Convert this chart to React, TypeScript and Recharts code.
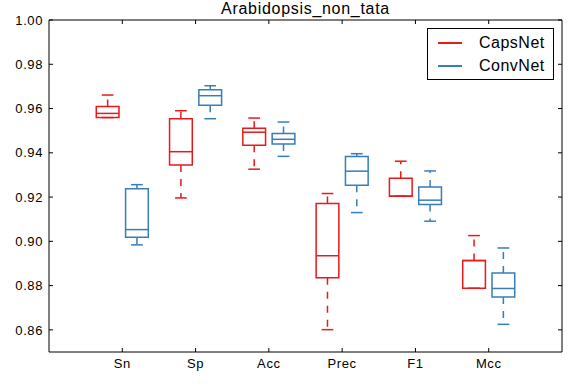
import { ComposedChart, XAxis, YAxis, ReferenceArea, ReferenceLine, Scatter } from 'recharts'

// metric names along the x axis (positions 1..6)
const categories = ['Sn', 'Sp', 'Acc', 'Prec', 'F1', 'Mcc']
const xTicks = [1, 2, 3, 4, 5, 6]
const yTicks = [0.86, 0.88, 0.9, 0.92, 0.94, 0.96, 0.98, 1.0]

// CapsNet five-number summaries
const capsMin = [0.9559, 0.9196, 0.9326, 0.8601, 0.9204, 0.8788]
const capsQ1 = [0.9559, 0.9345, 0.9434, 0.8835, 0.9204, 0.8788]
const capsMed = [0.9578, 0.9405, 0.9493, 0.8935, 0.9204, 0.8913]
const capsQ3 = [0.9609, 0.9554, 0.9511, 0.9171, 0.9285, 0.8913]
const capsMax = [0.9661, 0.959, 0.9557, 0.9216, 0.9362, 0.9026]

// ConvNet five-number summaries
const convMin = [0.8984, 0.9554, 0.9384, 0.913, 0.9091, 0.8625]
const convQ1 = [0.9018, 0.9615, 0.944, 0.9253, 0.9166, 0.8749]
const convMed = [0.9053, 0.9658, 0.9461, 0.9317, 0.9186, 0.8787]
const convQ3 = [0.9238, 0.9685, 0.9487, 0.9383, 0.9246, 0.8857]
const convMax = [0.9256, 0.9703, 0.9539, 0.9396, 0.9318, 0.897]

const RED = '#e41a1c'
const BLUE = '#377eb8'
const FONT = '"Liberation Sans", Arial, sans-serif'

const boxHalf = 0.155
const capHalf = 0.08
const offset = 0.2

const series = [
  { name: 'CapsNet', color: RED, shift: -offset, min: capsMin, q1: capsQ1, med: capsMed, q3: capsQ3, max: capsMax },
  { name: 'ConvNet', color: BLUE, shift: offset, min: convMin, q1: convQ1, med: convMed, q3: convQ3, max: convMax },
]

// one row per category, used so the axes have data to work from
const data = categories.map((c, i) => ({ pos: xTicks[i], name: c, caps: capsMed[i], conv: convMed[i] }))

const TICK_LEN = 4

const BottomTick = ({ x, y, payload }: any) => (
  <g>
    <line x1={x} x2={x} y1={y - 6} y2={y - 6 - TICK_LEN} stroke="#000" />
    <text x={x} y={y} dy="0.75em" textAnchor="middle" fontSize={13} letterSpacing={0.6} fontFamily={FONT} fill="#000">
      {categories[payload.value - 1]}
    </text>
  </g>
)

const LeftTick = ({ x, y, payload }: any) => (
  <g>
    <line x1={x + 6} x2={x + 6 + TICK_LEN} y1={y} y2={y} stroke="#000" />
    <text x={x} y={y} dy="0.36em" textAnchor="end" fontSize={13} letterSpacing={0.6} fontFamily={FONT} fill="#000">
      {payload.value.toFixed(2)}
    </text>
  </g>
)

const TopTick = ({ x, y }: any) => (
  <line x1={x} x2={x} y1={y + 2} y2={y + 2 + TICK_LEN} stroke="#000" />
)

const RightTick = ({ x, y }: any) => (
  <line x1={x - 2} x2={x - 2 - TICK_LEN} y1={y} y2={y} stroke="#000" />
)

const NoShape = () => <g />

export default function App() {
  const common = { xAxisId: 'b', yAxisId: 'l', ifOverflow: 'visible' as const }

  const marks: any[] = []
  series.forEach((s) => {
    categories.forEach((c, i) => {
      const cx = xTicks[i] + s.shift
      marks.push(
        <ReferenceLine
          key={`${s.name}-${c}-wu`}
          {...common}
          segment={[{ x: cx, y: s.q3[i] }, { x: cx, y: s.max[i] }]}
          stroke={s.color}
          strokeWidth={1.5}
          strokeDasharray="7 7"
        />,
        <ReferenceLine
          key={`${s.name}-${c}-wl`}
          {...common}
          segment={[{ x: cx, y: s.q1[i] }, { x: cx, y: s.min[i] }]}
          stroke={s.color}
          strokeWidth={1.5}
          strokeDasharray="7 7"
        />,
        <ReferenceLine
          key={`${s.name}-${c}-cu`}
          {...common}
          segment={[{ x: cx - capHalf, y: s.max[i] }, { x: cx + capHalf, y: s.max[i] }]}
          stroke={s.color}
          strokeWidth={1.5}
        />,
        <ReferenceLine
          key={`${s.name}-${c}-cl`}
          {...common}
          segment={[{ x: cx - capHalf, y: s.min[i] }, { x: cx + capHalf, y: s.min[i] }]}
          stroke={s.color}
          strokeWidth={1.5}
        />,
        <ReferenceArea
          key={`${s.name}-${c}-box`}
          {...common}
          x1={cx - boxHalf}
          x2={cx + boxHalf}
          y1={s.q1[i]}
          y2={s.q3[i]}
          fill="none"
          fillOpacity={0}
          stroke={s.color}
          strokeWidth={1.5}
        />,
        <ReferenceLine
          key={`${s.name}-${c}-med`}
          {...common}
          segment={[{ x: cx - boxHalf, y: s.med[i] }, { x: cx + boxHalf, y: s.med[i] }]}
          stroke={s.color}
          strokeWidth={1.5}
        />
      )
    })
  })

  return (
    <div style={{ position: 'absolute', left: 0, top: 0, width: 576, height: 384, background: '#fff' }}>
      <ComposedChart width={576} height={384} data={data} margin={{ top: 0, right: 0, bottom: 0, left: 0 }}>
        <XAxis
          xAxisId="b"
          dataKey="pos"
          type="number"
          domain={[0, 7]}
          ticks={xTicks}
          allowDataOverflow
          height={32}
          tickSize={0}
          tickMargin={6}
          tickLine={false}
          axisLine={{ stroke: '#000' }}
          tick={<BottomTick />}
        />
        <XAxis
          xAxisId="t"
          dataKey="pos"
          orientation="top"
          type="number"
          domain={[0, 7]}
          ticks={xTicks}
          allowDataOverflow
          height={20}
          tickSize={0}
          tickMargin={2}
          tickLine={false}
          axisLine={{ stroke: '#000' }}
          tick={<TopTick />}
        />
        <YAxis
          yAxisId="l"
          type="number"
          domain={[0.85, 1.0]}
          ticks={yTicks}
          allowDataOverflow
          width={49}
          tickSize={0}
          tickMargin={6}
          tickLine={false}
          axisLine={{ stroke: '#000' }}
          tick={<LeftTick />}
        />
        <YAxis
          yAxisId="r"
          orientation="right"
          type="number"
          domain={[0.85, 1.0]}
          ticks={yTicks}
          allowDataOverflow
          width={14}
          tickSize={0}
          tickMargin={2}
          tickLine={false}
          axisLine={{ stroke: '#000' }}
          tick={<RightTick />}
        />
        <Scatter xAxisId="b" yAxisId="l" dataKey="caps" shape={<NoShape />} isAnimationActive={false} />
        <Scatter xAxisId="t" yAxisId="r" dataKey="conv" shape={<NoShape />} isAnimationActive={false} />
        {marks}
      </ComposedChart>

      <div
        style={{
          position: 'absolute',
          left: 0,
          top: 1,
          width: 611,
          textAlign: 'center',
          fontFamily: FONT,
          fontSize: 16,
          letterSpacing: 0.7,
          lineHeight: '16px',
        }}
      >
        Arabidopsis_non_tata
      </div>

      <div
        style={{
          position: 'absolute',
          left: 427,
          top: 28,
          width: 125,
          height: 50,
          border: '1px solid #000',
          background: '#fff',
          fontFamily: FONT,
          fontSize: 16,
          letterSpacing: 0.5,
        }}
      >
        {series.map((s, k) => (
          <div key={s.name} style={{ position: 'absolute', left: 0, top: 4 + k * 23, height: 20, width: 125 }}>
            <div style={{ position: 'absolute', left: 10, top: 9, width: 24, height: 2, background: s.color }} />
            <div style={{ position: 'absolute', left: 51, top: 0, lineHeight: '20px' }}>{s.name}</div>
          </div>
        ))}
      </div>
    </div>
  )
}
